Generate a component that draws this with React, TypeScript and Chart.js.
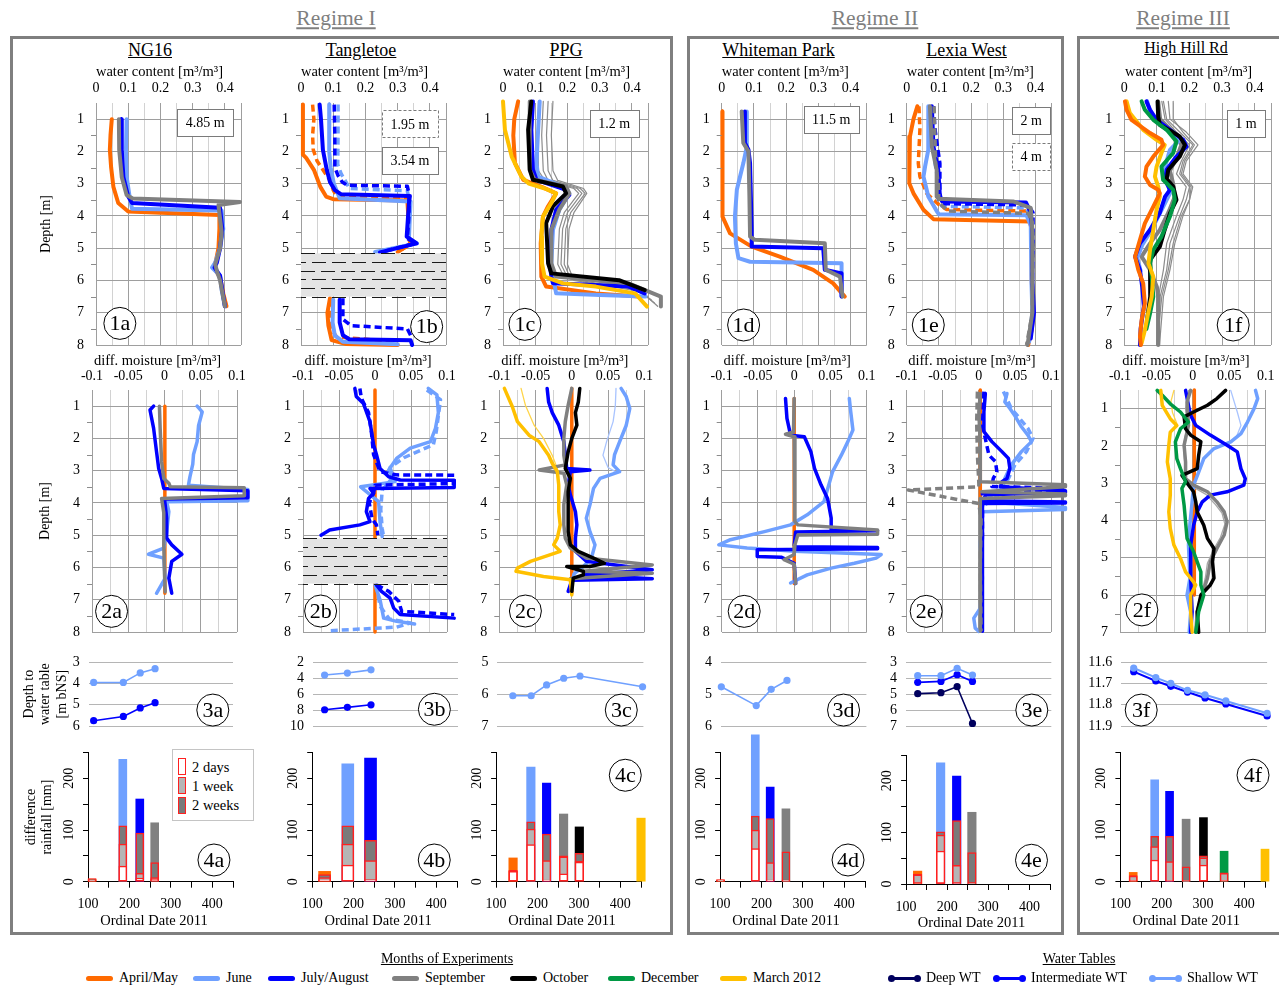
import React, { useEffect, useRef } from 'react';
import { Chart, registerables } from 'chart.js';

Chart.register(...registerables);

const SERIF = '"Liberation Serif", "Times New Roman", Times, serif';
Chart.defaults.font.family = SERIF;
Chart.defaults.font.size = 14;
Chart.defaults.color = '#000';

type P = number[][];

// ---------- colours ----------
const APR = '#ff6a00';
const JUN = '#6fa0ff';
const JUL = '#0000ff';
const SEP = '#808080';
const OCT = '#000000';
const DEC = '#009944';
const MAR = '#ffc000';
const DEEP = '#00005e';
const THIN = '#8c8c8c';
const JUN_THIN = '#a9c4ff';
const MAR_THIN = '#ffd54a';
const RED = '#ff2020';
const WK2 = '#7a7a7a';
const WK1 = '#b5b5b5';
const GRID_MAJ = '#9e9e9e';
const GRID_MIN = '#d2d2d2';

// ---------- ticks ----------
const WC_TICKS = [0, 0.05, 0.1, 0.15, 0.2, 0.25, 0.3, 0.35, 0.4, 0.45];
const WC_LABELS = ['0', '', '0.1', '', '0.2', '', '0.3', '', '0.4', ''];
const DM_TICKS = [-0.1, -0.075, -0.05, -0.025, 0, 0.025, 0.05, 0.075, 0.1];
const DM_LABELS = ['-0.1', '', '-0.05', '', '0', '', '0.05', '', '0.1'];
const DEPTH_TICKS = [1, 2, 3, 4, 5, 6, 7, 8];
const DEPTH_TICKS_7 = [1, 2, 3, 4, 5, 6, 7];
const HALF_DEPTH = [1.5, 2.5, 3.5, 4.5, 5.5, 6.5, 7.5];
const HALF_DEPTH_7 = [1.5, 2.5, 3.5, 4.5, 5.5, 6.5];
const DATE_TICKS = [100, 150, 200, 250, 300, 350, 400, 450];
const DATE_LABELS = ['100', '', '200', '', '300', '', '400', ''];
const RAIN_TICKS = [0, 50, 100, 150, 200, 250];
const RAIN_LABELS = [0, 100, 200];
const WT_TICKS_A = [3, 4, 5, 6];
const WT_TICKS_B = [2, 4, 6, 8, 10];
const WT_TICKS_C = [5, 6, 7];
const WT_TICKS_D = [4, 5, 6];
const WT_TICKS_E = [3, 4, 5, 6, 7];
const WT_TICKS_F = [11.6, 11.7, 11.8, 11.9];

// ---------- Row 1: water content profiles [value, depth] ----------
const NG16_APR: P = [[0.049,1],[0.045,1.5],[0.043,1.95],[0.047,2.5],[0.054,3.1],[0.069,3.6],[0.1,3.86],[0.383,3.97],[0.383,4.4],[0.38,5.0],[0.372,5.4],[0.365,5.6],[0.385,5.9],[0.395,6.4],[0.405,6.8]];
const NG16_JUN: P = [[0.095,1],[0.093,1.95],[0.095,2.78],[0.105,3.45],[0.112,3.78],[0.39,3.83],[0.395,4.4],[0.385,5.0],[0.37,5.45],[0.36,5.6],[0.385,5.85],[0.39,6.3],[0.4,6.8]];
const NG16_JUL: P = [[0.078,1],[0.08,1.95],[0.085,2.8],[0.1,3.4],[0.112,3.6],[0.385,3.75],[0.392,4.4],[0.385,5.0],[0.375,5.45],[0.368,5.6],[0.385,5.85],[0.392,6.3],[0.4,6.8]];
const NG16_SEP: P = [[0.071,1],[0.072,1.95],[0.08,2.8],[0.095,3.35],[0.114,3.46],[0.447,3.57],[0.38,3.66],[0.39,4.5],[0.385,5.0],[0.37,5.5],[0.375,5.7],[0.385,6.0],[0.4,6.8]];

const TANG_APR: P = [[0.006,0.55],[0.006,2.1],[0.016,2.2],[0.04,2.57],[0.06,3.1],[0.078,3.4],[0.1,3.48],[0.33,3.52],[0.333,4.0],[0.335,4.7],[0.34,4.85],[0.3,5.12]];
const TANG_APR_LOW: P = [[0.09,6.55],[0.082,7.0],[0.085,7.4],[0.095,7.85],[0.14,7.97],[0.3,8.0]];
const TANG_APR_D: P = [[0.036,0.55],[0.04,1.0],[0.036,1.5],[0.038,1.95],[0.05,2.3],[0.07,2.6],[0.09,2.9],[0.1,3.2],[0.11,3.38],[0.33,3.45],[0.335,4.0],[0.335,4.7],[0.345,4.85],[0.3,5.12]];
const TANG_APR_D_LOW: P = [[0.095,6.6],[0.09,7.1],[0.095,7.5],[0.11,7.75],[0.3,7.9]];
const TANG_JUN: P = [[0.088,0.55],[0.088,1],[0.087,2],[0.092,2.5],[0.102,3.0],[0.12,3.45],[0.34,3.55],[0.338,4.0],[0.335,4.7],[0.36,4.85],[0.23,5.12]];
const TANG_JUN_LOW: P = [[0.1,6.6],[0.098,7.3],[0.105,7.7],[0.13,7.9],[0.3,7.98]];
const TANG_JUN_D: P = [[0.115,0.55],[0.115,1.5],[0.114,2.4],[0.125,2.7],[0.14,2.95],[0.15,3.15],[0.33,3.22],[0.336,3.5]];
const TANG_JUL: P = [[0.058,0.55],[0.062,1],[0.068,1.95],[0.08,2.57],[0.09,2.95],[0.105,3.2],[0.125,3.33],[0.338,3.38],[0.335,3.6],[0.328,4.64],[0.359,4.85],[0.245,5.13]];
const TANG_JUL_LOW: P = [[0.12,6.6],[0.12,7.3],[0.13,7.7],[0.15,7.82],[0.34,7.85],[0.345,8.0]];
const TANG_JUL_D: P = [[0.103,0.55],[0.105,1.5],[0.105,2.5],[0.115,2.75],[0.128,2.95],[0.143,3.05],[0.33,3.08],[0.335,3.3],[0.335,4.0],[0.33,4.7],[0.355,4.85],[0.25,5.12]];
const TANG_JUL_D_LOW: P = [[0.13,6.55],[0.13,7.2],[0.155,7.4],[0.33,7.5],[0.34,7.7]];

const PPG_T1: P = [[0.125,0.45],[0.12,1.5],[0.125,2.6],[0.14,2.9],[0.23,3.15],[0.245,3.3],[0.2,3.9],[0.185,4.4],[0.18,5.5],[0.2,5.9],[0.4,6.2],[0.46,6.6]];
const PPG_T2: P = [[0.14,0.45],[0.135,1.5],[0.14,2.6],[0.155,2.9],[0.24,3.15],[0.255,3.3],[0.21,3.9],[0.195,4.4],[0.19,5.5],[0.21,5.95],[0.42,6.3],[0.47,6.7]];
const PPG_T3: P = [[0.155,0.45],[0.15,1.5],[0.155,2.6],[0.17,2.9],[0.25,3.15],[0.26,3.3],[0.22,3.9],[0.205,4.4],[0.2,5.5],[0.22,6.0],[0.43,6.35],[0.48,6.8]];
const PPG_T4: P = [[0.11,0.45],[0.108,1.5],[0.11,2.6],[0.13,2.9],[0.22,3.15],[0.235,3.3],[0.19,3.9],[0.175,4.4],[0.17,5.5],[0.19,5.9],[0.38,6.15],[0.45,6.5]];
const PPG_APR: P = [[0.047,0.45],[0.035,1.0],[0.032,1.5],[0.037,2.36],[0.063,2.88],[0.12,3.1],[0.165,3.3],[0.14,3.7],[0.124,4.02],[0.117,4.85],[0.119,5.88],[0.134,6.19],[0.288,6.4],[0.42,6.5]];
const PPG_JUN: P = [[0.114,0.45],[0.109,1.33],[0.104,2.36],[0.109,2.78],[0.186,3.09],[0.206,3.3],[0.175,3.8],[0.155,4.43],[0.15,5.47],[0.155,5.88],[0.165,6.4],[0.3,6.45],[0.442,6.5]];
const PPG_JUL: P = [[0.093,0.45],[0.088,1.33],[0.093,2.57],[0.104,2.88],[0.196,3.19],[0.206,3.35],[0.165,3.8],[0.15,4.43],[0.145,5.47],[0.15,5.88],[0.155,6.09],[0.39,6.19],[0.44,6.4]];
const PPG_SEP: P = [[0.083,0.45],[0.083,2.57],[0.098,2.88],[0.196,3.09],[0.206,3.3],[0.175,3.8],[0.15,4.43],[0.15,5.47],[0.165,5.88],[0.39,6.09],[0.49,6.5],[0.49,6.81]];
const PPG_OCT: P = [[0.088,0.45],[0.078,1.33],[0.083,2.57],[0.093,2.88],[0.186,3.09],[0.196,3.3],[0.155,3.7],[0.134,4.22],[0.14,5.47],[0.15,5.78],[0.36,5.99],[0.44,6.3]];
const PPG_MAR: P = [[0.0,0.45],[0.006,1.33],[0.027,2.16],[0.057,2.78],[0.08,3.0],[0.13,3.15],[0.165,3.3],[0.15,3.6],[0.124,4.02],[0.119,4.64],[0.121,5.47],[0.129,5.88],[0.186,6.09],[0.288,6.19],[0.41,6.4],[0.447,6.81]];

const WP_APR: P = [[0.002,0.76],[0.002,1.8],[0.004,1.9],[0.002,2.0],[0.002,4.02],[0.026,4.54],[0.093,4.95],[0.18,5.26],[0.284,5.67],[0.346,6.09],[0.382,6.5]];
const WP_JUN: P = [[0.078,0.76],[0.078,1.85],[0.067,2.37],[0.047,3.19],[0.041,4.02],[0.044,4.85],[0.052,5.31],[0.088,5.42],[0.372,5.47],[0.372,6.5]];
const WP_JUL: P = [[0.072,0.76],[0.072,1.74],[0.083,1.95],[0.088,2.37],[0.093,4.43],[0.093,4.95],[0.315,5.0],[0.32,5.67],[0.372,5.78],[0.372,6.5]];
const WP_SEP: P = [[0.062,0.76],[0.067,1.74],[0.083,2.0],[0.086,3.4],[0.088,4.64],[0.103,4.74],[0.32,4.85],[0.323,5.67],[0.367,5.88],[0.375,6.5]];

const LW_APR: P = [[0.033,0.6],[0.021,1.0],[0.01,1.54],[0.008,2.37],[0.008,2.99],[0.021,3.3],[0.052,3.81],[0.083,4.1],[0.382,4.17],[0.388,4.43],[0.388,5.98],[0.393,7.02],[0.388,7.54],[0.377,8.0]];
const LW_APR_D: P = [[0.038,0.6],[0.041,1.33],[0.036,2.37],[0.041,2.78],[0.062,3.3],[0.1,3.65],[0.124,3.8],[0.372,3.85],[0.385,4.1],[0.388,4.3]];
const LW_JUN: P = [[0.067,0.6],[0.067,1.95],[0.057,2.47],[0.052,2.78],[0.067,3.4],[0.093,3.85],[0.1,3.95],[0.372,3.98],[0.385,4.3],[0.387,6.0],[0.39,7.0],[0.38,7.9]];
const LW_JUN_D: P = [[0.083,0.6],[0.088,2.37],[0.098,2.99],[0.098,3.5],[0.11,3.7],[0.37,3.75],[0.385,4.0]];
const LW_JUL: P = [[0.078,0.6],[0.083,1.85],[0.098,2.57],[0.103,3.4],[0.11,3.55],[0.37,3.58],[0.385,3.9],[0.39,4.5],[0.39,6.0],[0.395,7.0],[0.385,7.8]];
const LW_JUL_D: P = [[0.083,0.6],[0.088,1.33],[0.103,2.37],[0.103,3.3],[0.11,3.62],[0.377,3.66],[0.392,3.9],[0.392,5.0],[0.39,6.0],[0.392,7.0]];
const LW_SEP: P = [[0.072,0.6],[0.078,1.85],[0.093,2.57],[0.093,3.4],[0.1,3.47],[0.33,3.55],[0.385,3.75],[0.39,4.5],[0.39,7.0],[0.375,8.0]];
const LW_SEP_D: P = [[0.085,0.6],[0.09,2.4],[0.098,3.0],[0.1,3.6],[0.13,3.85],[0.377,3.92],[0.39,4.2],[0.392,5.0],[0.39,6.0],[0.39,7.0],[0.372,8.0]];

const HH_T1: P = [[0.12,0.45],[0.13,1.0],[0.17,1.4],[0.21,1.8],[0.18,2.3],[0.17,2.7],[0.2,3.1],[0.19,3.5],[0.17,4.0],[0.14,4.85],[0.13,5.67],[0.11,6.5],[0.105,8.0]];
const HH_T2: P = [[0.135,0.45],[0.14,1.0],[0.19,1.4],[0.226,1.8],[0.19,2.3],[0.18,2.7],[0.21,3.1],[0.2,3.5],[0.18,4.0],[0.155,4.85],[0.14,5.67],[0.12,6.5],[0.108,8.0]];
const HH_T3: P = [[0.15,0.45],[0.15,1.0],[0.18,1.4],[0.215,1.8],[0.185,2.3],[0.175,2.7],[0.205,3.1],[0.2,3.5],[0.175,4.0],[0.15,4.85],[0.135,5.67],[0.115,6.5],[0.1,8.0]];
const HH_T4: P = [[0.115,0.45],[0.125,1.0],[0.16,1.4],[0.2,1.8],[0.175,2.3],[0.16,2.7],[0.19,3.1],[0.18,3.5],[0.16,4.0],[0.13,4.85],[0.12,5.67],[0.105,6.5],[0.1,8.0]];
const HH_APR: P = [[0.002,0.45],[0.007,0.71],[0.022,1.02],[0.079,1.43],[0.114,1.64],[0.119,1.8],[0.089,2.16],[0.068,2.47],[0.063,2.78],[0.079,3.04],[0.104,3.19],[0.109,3.3],[0.089,3.71],[0.063,4.23],[0.048,4.74],[0.033,5.26],[0.043,5.67],[0.058,6.09],[0.063,6.71],[0.053,7.23],[0.048,7.74],[0.051,8.0]];
const HH_JUN: P = [[0.07,0.45],[0.08,0.8],[0.1,1.1],[0.14,1.4],[0.17,1.64],[0.14,1.95],[0.13,2.3],[0.12,2.7],[0.135,3.0],[0.14,3.3],[0.115,3.8],[0.085,4.4],[0.055,4.9],[0.04,5.3],[0.05,5.7]];
const HH_JUL: P = [[0.068,0.45],[0.079,0.71],[0.099,1.02],[0.14,1.33],[0.181,1.64],[0.191,1.85],[0.16,2.16],[0.13,2.57],[0.125,2.88],[0.14,3.19],[0.125,3.4],[0.109,3.9],[0.079,4.43],[0.048,4.85],[0.033,5.26],[0.048,5.67],[0.055,6.2],[0.06,6.8],[0.05,7.5],[0.048,8.0]];
const HH_SEP: P = [[0.104,0.45],[0.11,1.0],[0.13,1.2],[0.16,1.5],[0.175,1.8],[0.16,2.2],[0.14,2.6],[0.15,3.0],[0.155,3.4],[0.135,3.9],[0.109,4.43],[0.079,4.85],[0.053,5.26],[0.079,5.67],[0.1,6.2],[0.104,6.5],[0.104,8.0]];
const HH_OCT: P = [[0.102,0.45],[0.104,0.92],[0.109,1.18],[0.14,1.35],[0.17,1.54],[0.186,1.8],[0.17,2.16],[0.135,2.57],[0.13,2.85],[0.15,3.09],[0.16,3.5],[0.14,3.92],[0.124,4.43],[0.109,4.95],[0.079,5.36],[0.079,5.88],[0.08,6.5],[0.07,7.2]];
const HH_DEC: P = [[0.053,0.45],[0.063,0.71],[0.089,1.02],[0.13,1.33],[0.16,1.69],[0.15,2.05],[0.114,2.47],[0.119,2.88],[0.15,3.19],[0.155,3.5],[0.14,4.02],[0.114,4.64],[0.089,5.05],[0.079,5.47],[0.084,5.88],[0.089,6.5],[0.079,7.02],[0.068,7.5]];
const HH_MAR: P = [[0.007,0.45],[0.017,0.81],[0.058,1.33],[0.099,1.64],[0.124,1.8],[0.114,2.05],[0.099,2.47],[0.094,2.78],[0.104,3.09],[0.109,3.4],[0.099,3.81],[0.089,4.43],[0.079,5.05],[0.074,5.47],[0.089,5.88],[0.084,6.5],[0.073,7.02],[0.063,7.54],[0.053,7.95]];

// ---------- Row 2: differential moisture profiles [value, depth] ----------
const D_NG16_APR: P = [[0.0005,1],[0.0005,6.8]];
const D_NG16_JUN: P = [[0.045,1],[0.052,1.18],[0.047,1.6],[0.045,2.1],[0.04,2.5],[0.039,2.8],[0.035,3.2],[0.033,3.45],[0.115,3.58],[0.115,3.93],[0.003,3.96],[0.006,4.27],[0.003,4.9],[-0.001,5.4],[-0.022,5.59],[-0.001,5.71],[0.001,6.33],[-0.011,6.8]];
const D_NG16_JUL: P = [[-0.015,1],[-0.02,1.12],[-0.015,1.69],[-0.011,2.41],[-0.008,2.93],[-0.004,3.24],[-0.001,3.55],[0.115,3.62],[0.115,3.84],[0.0,3.88],[0.003,4.47],[0.003,5.09],[0.01,5.3],[0.024,5.59],[0.01,5.81],[0.006,6.33],[0.01,6.8]];
const D_NG16_SEP: P = [[-0.007,1],[-0.006,1.69],[-0.004,2.72],[-0.001,3.24],[0.006,3.39],[0.008,3.5],[0.11,3.53],[0.11,3.78],[-0.004,3.86],[-0.001,4.3],[-0.001,5.3],[0,6.2],[0.001,6.75]];

const D_TANG_APR: P = [[0,0.5],[0,8]];
const D_TANG_JUN: P = [[0.074,0.45],[0.086,0.65],[0.088,1.2],[0.084,1.69],[0.077,2.1],[0.049,2.3],[0.03,2.62],[0.019,2.98],[0.028,3.34],[-0.02,3.5],[0.005,3.96],[0.007,4.58],[0.009,4.89],[0.01,5.05]];
const D_TANG_JUN_D: P = [[0.072,0.5],[0.091,0.8],[0.088,1.3],[0.085,1.8],[0.081,2.2],[0.06,2.4],[0.04,2.6],[0.021,2.9],[0.025,3.2],[0.01,3.6],[0.008,4.2],[0.01,4.8],[0.012,5.05]];
const D_TANG_JUL: P = [[-0.028,0.45],[-0.026,0.7],[-0.016,0.92],[-0.007,1.48],[-0.002,2.2],[0.002,2.5],[0.007,2.93],[0.019,3.19],[0.035,3.29],[0.11,3.3],[0.11,3.52],[-0.007,3.55],[-0.002,3.7],[-0.009,3.86],[-0.012,4.27],[-0.007,4.58],[-0.021,4.68],[-0.063,4.84],[-0.075,5.0]];
const D_TANG_JUL_D: P = [[-0.021,0.45],[-0.019,0.75],[-0.009,1.2],[-0.005,1.8],[-0.002,2.5],[0.007,3.03],[0.03,3.13],[0.11,3.14],[0.11,3.4],[0.0,3.45],[-0.002,3.7],[-0.008,4.0],[-0.004,4.5],[0.002,4.68],[0.004,5.0]];
const D_TANG_JUN_LOW: P = [[0,6.54],[0.007,7.0],[0.012,7.57],[0.03,7.67],[0.055,7.75]];
const D_TANG_JUN_D_LOW: P = [[0.002,6.54],[0.007,7.2],[0.02,7.6],[0.049,7.72],[0.03,7.85],[-0.063,7.96]];
const D_TANG_JUL_LOW: P = [[0.002,6.54],[0.009,6.74],[0.021,6.95],[0.026,7.26],[0.035,7.46],[0.11,7.57]];
const D_TANG_JUL_D_LOW: P = [[0.002,6.54],[0.019,6.74],[0.033,7.05],[0.037,7.36],[0.11,7.46]];

const D_PPG_APR: P = [[0,0.45],[0,6.8]];
const D_PPG_JUN_T: P = [[0.061,0.45],[0.06,1.0],[0.057,1.48],[0.048,2.1],[0.043,2.52],[0.05,2.9],[0.06,3.03]];
const D_PPG_MAR_T: P = [[-0.07,0.45],[-0.064,0.97],[-0.052,1.59],[-0.039,2.0],[-0.027,2.52],[-0.02,2.93],[-0.018,3.2]];
const D_PPG_JUN: P = [[0.068,0.45],[0.075,0.7],[0.08,1.07],[0.075,1.6],[0.066,2.1],[0.059,2.5],[0.057,2.82],[0.066,3.03],[0.039,3.24],[0.03,3.55],[0.025,4.06],[0.02,4.47],[0.025,4.89],[0.032,5.3],[0.027,5.71],[0.016,5.97],[0.003,6.2],[-0.002,6.74]];
const D_PPG_JUL: P = [[-0.034,0.45],[-0.032,0.87],[-0.027,1.2],[-0.018,1.59],[-0.011,2.1],[-0.009,2.5],[-0.007,2.93],[0.025,2.98],[-0.002,3.03],[-0.005,3.44],[-0.002,3.75],[0.005,4.27],[0.007,4.68],[0.005,5.09],[0.005,5.5],[0.02,5.81],[0.111,6.07],[0.016,6.23],[0.111,6.35],[0.0,6.4],[-0.005,6.74]];
const D_PPG_SEP: P = [[0,0.45],[-0.005,0.97],[-0.009,1.48],[-0.011,2.0],[-0.011,2.52],[-0.009,2.82],[-0.045,2.98],[-0.011,3.08],[-0.007,3.44],[-0.011,4.06],[-0.011,4.68],[-0.009,5.09],[-0.002,5.4],[0.02,5.71],[0.111,5.92],[0.016,6.12],[0.111,6.18],[-0.002,6.35],[0,6.74]];
const D_PPG_OCT: P = [[0.011,0.45],[0.009,0.87],[0.005,1.2],[0.007,1.59],[0.0,2.0],[-0.005,2.41],[-0.009,2.93],[-0.002,3.24],[-0.005,3.65],[-0.005,4.27],[-0.005,4.89],[-0.002,5.3],[0.009,5.5],[0.03,5.71],[0.045,5.87],[0.025,5.97],[-0.007,5.97],[0.016,6.12],[0.016,6.23],[0.002,6.33],[0,6.74]];
const D_PPG_MAR: P = [[-0.093,0.45],[-0.082,1.02],[-0.075,1.48],[-0.059,1.9],[-0.045,2.1],[-0.032,2.52],[-0.027,2.77],[-0.02,3.03],[-0.018,3.44],[-0.018,4.27],[-0.016,4.68],[-0.02,5.09],[-0.025,5.3],[-0.016,5.5],[-0.057,5.81],[-0.075,6.02],[-0.077,6.12],[-0.039,6.28],[-0.002,6.38],[0,6.85]];

const D_WP_APR: P = [[0,0.76],[0,6.5]];
const D_WP_JUN: P = [[0.076,0.76],[0.078,1.18],[0.081,1.74],[0.074,2.1],[0.065,2.52],[0.053,3.03],[0.041,3.96],[0.018,4.37],[-0.005,4.68],[-0.041,4.89],[-0.088,5.14],[-0.104,5.3],[-0.065,5.4],[-0.028,5.45],[0.0,5.5],[0.12,5.6],[0.113,5.71],[0.083,5.87],[0.051,6.02],[0.018,6.23],[-0.005,6.48]];
const D_WP_JUL: P = [[-0.012,0.76],[-0.01,1.38],[-0.005,1.9],[0.014,1.95],[0.023,2.41],[0.028,2.93],[0.037,3.44],[0.046,3.86],[0.051,4.47],[0.051,4.84],[0.115,4.86],[0.002,4.9],[0,5.3],[0.002,5.36],[0.115,5.38],[0.115,5.42],[-0.051,5.45],[-0.051,5.66],[-0.018,5.68],[0,5.87],[0.002,6.5]];
const D_WP_SEP: P = [[0,0.76],[-0.001,1.8],[-0.012,1.87],[0.0,1.95],[0.001,3.0],[0.001,4.58],[0.005,4.68],[0.115,4.84],[0.115,4.97],[0.005,4.99],[0.001,5.3],[0,5.6],[-0.014,5.76],[0,5.9],[0.002,6.5]];

const D_LW_APR: P = [[0.002,0.5],[0.002,4.2]];
const D_LW_JUN: P = [[0.039,0.61],[0.036,0.87],[0.043,1.07],[0.05,1.3],[0.059,1.64],[0.068,1.9],[0.073,2.1],[0.059,2.41],[0.045,2.82],[0.036,3.24],[0.032,3.55],[0.015,3.8],[0.007,3.96],[0.12,4.14],[0.12,4.2],[0.005,4.27],[0.002,5.3],[0.005,6.33],[0.002,7.26],[-0.007,7.57],[-0.005,7.88],[0,7.98]];
const D_LW_JUN_D: P = [[0.034,0.55],[0.045,1.07],[0.068,1.69],[0.075,2.0],[0.066,2.41],[0.05,2.82],[0.039,3.34],[0.032,3.65],[0.02,3.9],[0.005,4.1]];
const D_LW_JUL: P = [[0.009,0.61],[0.007,1.18],[0.007,1.79],[0.018,2.1],[0.032,2.41],[0.041,2.62],[0.043,2.93],[0.039,3.24],[0.032,3.34],[0.03,3.5],[0.12,3.62],[0.12,3.68],[0.01,3.75],[0.005,3.93],[0.12,3.97],[0.12,4.0],[0.005,4.02],[0.005,5.3],[0.005,7.98]];
const D_LW_JUL_D: P = [[0.007,0.55],[0.005,1.6],[0.014,2.52],[0.023,2.72],[0.025,3.03],[0.02,3.24],[0.018,3.49],[0.12,3.55],[0.12,3.6],[0.005,3.7],[0.005,5.0],[0.003,7.0]];
const D_LW_SEP: P = [[0.002,0.61],[0,1.18],[0.002,2.2],[0.002,3.34],[0.12,3.44],[0.12,3.5],[0.004,3.65],[0.12,3.72],[0.12,3.78],[0.002,3.86],[0.002,5.3],[0.002,7.98]];
const D_LW_SEP_D: P = [[-0.002,0.55],[-0.003,1.5],[-0.002,2.5],[0,3.4],[0,3.5],[-0.098,3.6],[0,4.02],[0.003,4.5],[0.002,6.0],[0.003,7.98]];

const D_HH_APR: P = [[0.002,0.5],[0.002,6.0]];
const D_HH_JUN_T: P = [[0.052,0.51],[0.061,1.09],[0.066,1.45],[0.06,1.75]];
const D_HH_MAR_T: P = [[-0.026,0.51],[-0.03,0.8],[-0.028,1.1],[-0.022,1.4]];
const D_HH_SEP_T: P = [[-0.006,0.51],[-0.01,1.0],[-0.008,1.5],[-0.013,2.0],[-0.011,2.5],[-0.01,2.9],[0.0,3.1],[0.018,3.3],[0.03,3.55],[0.04,3.8],[0.044,4.1],[0.038,4.45],[0.028,4.8],[0.02,5.15],[0.017,5.55],[0.01,6.1],[0.005,6.5]];
const D_HH_JUN: P = [[0.086,0.51],[0.089,0.73],[0.084,1.0],[0.075,1.36],[0.066,1.67],[0.052,1.89],[0.029,2.07],[0.015,2.34],[0.008,2.7],[0.001,3.05],[-0.001,3.5],[-0.004,4.1],[-0.006,4.66],[-0.004,5.55],[-0.008,6.0],[-0.003,6.45],[-0.005,7.0]];
const D_HH_JUL: P = [[-0.01,0.51],[-0.006,0.91],[-0.003,1.18],[0.004,1.45],[0.024,1.71],[0.047,1.98],[0.061,2.16],[0.066,2.61],[0.072,2.88],[0.07,3.05],[0.047,3.23],[0.024,3.32],[0.013,3.5],[0.006,3.77],[0.001,4.13],[-0.003,4.66],[-0.003,5.55],[-0.001,6.45],[-0.003,7.0]];
const D_HH_SEP: P = [[-0.003,0.51],[-0.008,0.82],[-0.006,1.45],[-0.012,1.98],[-0.01,2.43],[-0.01,2.88],[0.001,3.05],[0.02,3.23],[0.033,3.5],[0.043,3.77],[0.047,4.04],[0.043,4.39],[0.033,4.75],[0.024,5.11],[0.02,5.55],[0.011,6.09],[0.006,6.45],[0.004,7.0]];
const D_HH_OCT: P = [[0.045,0.51],[0.033,0.73],[0.02,0.91],[0.001,1.09],[-0.012,1.22],[-0.01,1.54],[-0.003,1.71],[0.011,1.89],[0.008,2.25],[0.006,2.61],[-0.015,2.79],[-0.006,3.05],[0.001,3.23],[0.004,3.5],[0.006,3.77],[0.015,4.13],[0.02,4.48],[0.029,4.75],[0.027,5.11],[0.029,5.55],[0.024,5.73],[0.011,6.0],[0.006,6.45],[0.008,7.0]];
const D_HH_DEC: P = [[-0.049,0.51],[-0.042,0.64],[-0.031,0.87],[-0.017,1.09],[-0.006,1.36],[-0.017,1.54],[-0.024,1.89],[-0.022,2.34],[-0.017,2.61],[-0.01,2.96],[-0.015,3.14],[-0.012,3.59],[-0.01,4.04],[-0.008,4.48],[0.001,4.84],[0.006,5.11],[0.011,5.38],[0.011,5.73],[0.015,6.0],[0.008,6.45],[0.004,7.0]];
const D_HH_MAR: P = [[-0.044,0.51],[-0.042,0.91],[-0.031,1.27],[-0.022,1.45],[-0.031,1.63],[-0.033,1.98],[-0.035,2.43],[-0.031,2.88],[-0.031,3.32],[-0.033,3.77],[-0.031,4.21],[-0.026,4.66],[-0.017,5.02],[-0.01,5.38],[-0.003,5.55],[0.004,5.73],[-0.003,6.0],[-0.003,6.45],[-0.001,7.0]];

// ---------- Row 3: depth to water table ----------
const WT_DATES_A = [112, 184, 225, 261];
const WT_A_SHALLOW = [3.95, 3.95, 3.5, 3.3];
const WT_A_INTER = [5.75, 5.55, 5.15, 4.9];
const WT_DATES_B = [128, 183, 240];
const WT_B_SHALLOW = [3.6, 3.35, 2.95];
const WT_B_INTER = [7.96, 7.66, 7.34];
const WT_DATES_C = [137, 181, 218, 259, 298, 448];
const WT_C_SHALLOW = [6.05, 6.05, 5.71, 5.5, 5.43, 5.77];
const WT_DATES_D = [101, 185, 221, 259];
const WT_D_SHALLOW = [4.77, 5.36, 4.85, 4.57];
const WT_DATES_E = [128, 184, 223, 260];
const WT_E_SHALLOW = [3.84, 3.84, 3.38, 3.8];
const WT_E_INTER = [4.26, 4.2, 3.78, 4.2];
const WT_E_DEEP = [4.97, 4.91, 4.53, 6.84];
const WT_DATES_F = [130, 183, 219, 259, 301, 351, 450];
const WT_F_SHALLOW = [11.627, 11.672, 11.699, 11.732, 11.753, 11.782, 11.84];
const WT_F_INTER = [11.644, 11.688, 11.713, 11.74, 11.768, 11.796, 11.853];

// ---------- Row 4: difference rainfall [mm] ----------
const R_A_DATES = [110, 184, 225, 261];
const R_A_COLORS = [APR, JUN, JUL, SEP];
const R_A_TOTAL = [5, 237, 160, 114];
const R_A_2WK = [6, 108, 94, 37];
const R_A_1WK = [3, 73, 16, 8];
const R_A_2D = [2, 30, 7, 5];

const R_B_DATES = [130, 186, 241];
const R_B_COLORS = [APR, JUN, JUL];
const R_B_TOTAL = [20, 228, 239];
const R_B_2WK = [14, 108, 80];
const R_B_1WK = [8, 73, 41];
const R_B_2D = [3, 32, 4];

const R_C_DATES = [141, 184, 222, 263, 301, 450];
const R_C_COLORS = [APR, JUN, JUL, SEP, OCT, MAR];
const R_C_TOTAL = [46, 222, 191, 131, 106, 123];
const R_C_2WK = [22, 116, 92, 50, 55, null];
const R_C_1WK = [21, 102, 41, 48, 40, null];
const R_C_2D = [20, 72, 3, 15, 38, null];

const R_D_DATES = [101, 185, 221, 259];
const R_D_COLORS = [APR, JUN, JUL, SEP];
const R_D_TOTAL = [3, 284, 183, 141];
const R_D_2WK = [4, 127, 122, 58];
const R_D_1WK = [3, 100, 37, 3];
const R_D_2D = [2, 64, 3, 2];

const R_E_DATES = [128, 184, 223, 260];
const R_E_COLORS = [APR, JUN, JUL, SEP];
const R_E_TOTAL = [25, 235, 209, 139];
const R_E_2WK = [19, 101, 123, 61];
const R_E_1WK = [18, 95, 36, 2];
const R_E_2D = [1, 64, 2, 1];

const R_F_DATES = [131, 183, 219, 259, 301, 351, 450];
const R_F_COLORS = [APR, JUN, JUL, SEP, OCT, DEC, MAR];
const R_F_TOTAL = [18, 197, 175, 121, 124, 59, 63];
const R_F_2WK = [12, 88, 88, 29, 50, 17, null];
const R_F_1WK = [11, 68, 39, 2, 46, 16, null];
const R_F_2D = [2, 42, 2, 1, 32, 2, null];

// ---------- legend ----------
const MONTHS = ['April/May', 'June', 'July/August', 'September', 'October', 'December', 'March 2012'];
const MONTH_COLORS = [APR, JUN, JUL, SEP, OCT, DEC, MAR];
const WT_NAMES = ['Deep WT', 'Intermediate WT', 'Shallow WT'];
const WT_COLORS = [DEEP, JUL, JUN];
const RAIN_NAMES = ['2 days', '1 week', '2 weeks'];
const RAIN_FILLS = ['#ffffff', WK1, WK2];

// layout positions (px) of legend entries
const MONTH_LEG_X = [86, 193, 268, 392, 510, 608, 720];
const WT_LEG_X = [891, 996, 1152];

// ---------- helpers ----------
type Geo = { left: number; top: number; width: number; height: number; padding: any };

function geo(l: number, t: number, r: number, b: number, leftW: number, topH: number, bottomH: number): Geo {
  const pl = 6, pt = 24, pr = 22, pb = 24;
  const left = Math.floor(l - leftW - pl);
  const top = Math.floor(t - topH - pt);
  const width = Math.ceil(r + pr - left);
  const height = Math.ceil(b + bottomH + pb - top);
  return {
    left, top, width, height,
    padding: { left: l - leftW - left, top: t - topH - top, right: left + width - r, bottom: top + height - b - bottomH },
  };
}

type Deco = {
  circle?: [string, number, number];
  boxes?: [string, number, number, boolean?][];
  clay?: [number, number];
  minorY?: number[];
  rotY?: number[];
  xTitle?: [string, number, number, boolean]; // text, dx from centre, dy from edge, fromBottom
};

function decoPlugin(d: Deco) {
  return {
    id: 'deco',
    afterDraw(chart: any) {
      const { ctx, chartArea: ca, scales } = chart;
      const xs = scales.x, ys = scales.y;
      ctx.save();
      if (d.clay) {
        const y0 = ys.getPixelForValue(d.clay[0]);
        const y1 = ys.getPixelForValue(d.clay[1]);
        ctx.fillStyle = '#e4e4e4';
        ctx.fillRect(ca.left, y0, ca.right - ca.left, y1 - y0);
        ctx.strokeStyle = '#1a1a1a';
        ctx.lineWidth = 1;
        for (let i = 0; i <= 5; i++) {
          const y = Math.round(y0 + ((y1 - y0) * i) / 5) + 0.5;
          ctx.setLineDash([14, 6]);
          ctx.lineDashOffset = (i % 2) * 9;
          ctx.beginPath();
          ctx.moveTo(ca.left, y);
          ctx.lineTo(ca.right, y);
          ctx.stroke();
        }
        ctx.setLineDash([]);
      }
      if (d.minorY) {
        ctx.strokeStyle = '#8c8c8c';
        ctx.lineWidth = 1;
        d.minorY.forEach((v) => {
          const y = Math.round(ys.getPixelForValue(v)) + 0.5;
          ctx.beginPath();
          ctx.moveTo(ca.left - 5, y);
          ctx.lineTo(ca.left, y);
          ctx.stroke();
        });
      }
      if (d.rotY) {
        ctx.fillStyle = '#000';
        ctx.font = `14px ${SERIF}`;
        ctx.textAlign = 'center';
        ctx.textBaseline = 'middle';
        d.rotY.forEach((v) => {
          const y = ys.getPixelForValue(v);
          ctx.save();
          ctx.translate(ca.left - 19, y);
          ctx.rotate(-Math.PI / 2);
          ctx.fillText(String(v), 0, 0);
          ctx.restore();
        });
      }
      if (d.xTitle) {
        const [t, dx, dy, fromBottom] = d.xTitle;
        ctx.fillStyle = '#000';
        ctx.font = `14.5px ${SERIF}`;
        ctx.textAlign = 'center';
        ctx.textBaseline = 'middle';
        const x = (ca.left + ca.right) / 2 + dx;
        const y = fromBottom ? ca.bottom + dy : ca.top - dy;
        ctx.fillText(t, x, y);
      }
      (d.boxes || []).forEach(([t, vx, vy, dashed]) => {
        ctx.font = `14px ${SERIF}`;
        const w = Math.round(ctx.measureText(t).width + 17);
        const h = 27;
        const cx = xs.getPixelForValue(vx);
        const cy = ys.getPixelForValue(vy);
        const x0 = Math.round(cx - w / 2) + 0.5;
        const y0 = Math.round(cy - h / 2) + 0.5;
        ctx.fillStyle = '#fff';
        ctx.fillRect(x0, y0, w, h);
        ctx.strokeStyle = '#7a7a7a';
        ctx.lineWidth = 1;
        ctx.setLineDash(dashed ? [3, 2] : []);
        ctx.strokeRect(x0, y0, w, h);
        ctx.setLineDash([]);
        ctx.fillStyle = '#000';
        ctx.textAlign = 'center';
        ctx.textBaseline = 'middle';
        ctx.fillText(t, cx, cy + 1);
      });
      if (d.circle) {
        const [t, vx, vy] = d.circle;
        const cx = xs.getPixelForValue(vx);
        const cy = ys.getPixelForValue(vy);
        ctx.beginPath();
        ctx.arc(cx, cy, 16, 0, Math.PI * 2);
        ctx.fillStyle = '#fff';
        ctx.fill();
        ctx.lineWidth = 1;
        ctx.strokeStyle = '#000';
        ctx.stroke();
        ctx.fillStyle = '#000';
        ctx.font = `22px ${SERIF}`;
        ctx.textAlign = 'center';
        ctx.textBaseline = 'middle';
        ctx.fillText(t, cx, cy + 1);
      }
      ctx.restore();
    },
  };
}

function L(pts: P, color: string, w = 4, dash?: number[]) {
  return {
    data: pts.map((p) => ({ x: p[0], y: p[1] })),
    borderColor: color,
    backgroundColor: color,
    borderWidth: w,
    borderDash: dash || [],
    borderCapStyle: dash ? 'butt' : 'round',
    borderJoinStyle: 'round',
    showLine: true,
    pointRadius: 0,
    pointHoverRadius: 0,
    pointHitRadius: 0,
    tension: 0,
    fill: false,
    clip: false,
  };
}

const DASH = [7, 4];
const WC_TITLE = 'water content [m³/m³]';
const DM_TITLE = 'diff. moisture [m³/m³]';

function profCfg(kind: string, g: Geo, sets: any[], o: { leftW: number; ymax?: number; yTitle?: string; yPad?: number; deco: Deco }) {
  const wc = kind === 'wc';
  const xt = wc ? WC_TICKS : DM_TICKS;
  const xl = wc ? WC_LABELS : DM_LABELS;
  const ymax = o.ymax || 8;
  const yt = ymax === 8 ? DEPTH_TICKS : DEPTH_TICKS_7;
  const xTitle: [string, number, number, boolean] = wc ? [WC_TITLE, -9, 31, false] : [DM_TITLE, -7, 29, false];
  return {
    type: 'scatter',
    data: { datasets: sets.map((s, i) => ({ ...s, order: 100 - i })) },
    options: {
      responsive: false,
      animation: false,
      events: [],
      layout: { padding: g.padding },
      plugins: { legend: { display: false }, tooltip: { enabled: false } },
      scales: {
        x: {
          type: 'linear', position: 'top', min: xt[0], max: xt[xt.length - 1],
          afterBuildTicks: (s: any) => { s.ticks = xt.map((value) => ({ value })); },
          afterFit: (s: any) => { s.height = 45; },
          ticks: { autoSkip: false, maxRotation: 0, minRotation: 0, padding: wc ? 6.6 : 5.6, font: { size: 14 }, callback: (_v: any, i: number) => xl[i] },
          grid: { drawTicks: false, lineWidth: 1, color: (c: any) => (c.index % 2 === 0 || c.index === xt.length - 1 ? GRID_MAJ : GRID_MIN) },
          border: { display: false },
          title: { display: false },
        },
        y: {
          type: 'linear', reverse: true, min: 0.5, max: ymax,
          afterBuildTicks: (s: any) => { s.ticks = yt.map((value) => ({ value })); },
          afterFit: (s: any) => { s.width = o.leftW; },
          ticks: { autoSkip: false, padding: 12, font: { size: 14 } },
          grid: { drawTicks: false, color: GRID_MAJ, lineWidth: 1 },
          border: { display: false },
          title: { display: !!o.yTitle, text: o.yTitle || '', font: { size: 14 }, padding: { top: o.yPad || 0, bottom: 0 } },
        },
      },
    },
    plugins: [decoPlugin({ ...o.deco, xTitle, minorY: ymax === 8 ? HALF_DEPTH : HALF_DEPTH_7 })],
  };
}

function W(dates: number[], vals: number[], color: string, w = 1.6) {
  return {
    data: dates.map((d, i) => ({ x: d, y: vals[i] })),
    borderColor: color,
    backgroundColor: color,
    pointBackgroundColor: color,
    borderWidth: w,
    showLine: true,
    pointRadius: 3.6,
    pointBorderWidth: 0,
    pointHoverRadius: 0,
    tension: 0,
    clip: false,
  };
}

function wtCfg(g: Geo, sets: any[], o: { leftW: number; ticks: number[]; fmt?: boolean; yTitle?: string[]; deco: Deco }) {
  return {
    type: 'scatter',
    data: { datasets: sets },
    options: {
      responsive: false,
      animation: false,
      events: [],
      layout: { padding: g.padding },
      plugins: { legend: { display: false }, tooltip: { enabled: false } },
      scales: {
        x: { type: 'linear', display: false, min: 100, max: 450 },
        y: {
          type: 'linear', reverse: true, min: o.ticks[0], max: o.ticks[o.ticks.length - 1],
          afterBuildTicks: (s: any) => { s.ticks = o.ticks.map((value) => ({ value })); },
          afterFit: (s: any) => { s.width = o.leftW; },
          ticks: { autoSkip: false, padding: 9, font: { size: 14 }, callback: (v: number) => (o.fmt ? v.toFixed(1) : String(v)) },
          grid: { drawTicks: false, color: '#b5b5b5', lineWidth: 1 },
          border: { display: false },
          title: { display: !!o.yTitle, text: o.yTitle || '', font: { size: 14 }, padding: { top: 1.9, bottom: 0 } },
        },
      },
    },
    plugins: [decoPlugin(o.deco)],
  };
}

function rainCfg(
  g: Geo,
  r: { dates: number[]; colors: string[]; total: number[]; wk2: (number | null)[]; wk1: (number | null)[]; d2: (number | null)[] },
  thick: number,
  o: { leftW: number; yTitle?: string[]; deco: Deco }
) {
  const pts = (vals: (number | null)[]) =>
    r.dates.map((x, i) => ({ x, y: vals[i] })).filter((p) => p.y !== null && p.y !== undefined);
  const base = { grouped: false, barThickness: thick, clip: false, borderSkipped: false };
  const sets = [
    { ...base, data: pts(r.total), backgroundColor: r.colors, borderWidth: 0, order: 4 },
    { ...base, data: pts(r.wk2), backgroundColor: WK2, borderColor: RED, borderWidth: 1.5, order: 3 },
    { ...base, data: pts(r.wk1), backgroundColor: WK1, borderColor: RED, borderWidth: 1.5, order: 2 },
    { ...base, data: pts(r.d2), backgroundColor: '#ffffff', borderColor: RED, borderWidth: 1.5, order: 1 },
  ];
  return {
    type: 'bar',
    data: { datasets: sets },
    options: {
      responsive: false,
      animation: false,
      events: [],
      layout: { padding: g.padding },
      plugins: { legend: { display: false }, tooltip: { enabled: false } },
      scales: {
        x: {
          type: 'linear', position: 'bottom', min: 100, max: 450, offset: false,
          afterBuildTicks: (s: any) => { s.ticks = DATE_TICKS.map((value) => ({ value })); },
          afterFit: (s: any) => { s.height = 50; },
          ticks: { autoSkip: false, maxRotation: 0, minRotation: 0, padding: 8.6, font: { size: 14 }, callback: (_v: any, i: number) => DATE_LABELS[i] },
          grid: { offset: false, drawOnChartArea: false, drawTicks: true, tickLength: 6, color: '#000' },
          border: { color: '#000', width: 1 },
          title: { display: false },
        },
        y: {
          type: 'linear', min: 0, max: 250,
          afterBuildTicks: (s: any) => { s.ticks = RAIN_TICKS.map((value) => ({ value })); },
          afterFit: (s: any) => { s.width = o.leftW; },
          ticks: { display: false },
          grid: { drawOnChartArea: false, drawTicks: true, tickLength: 5, color: '#000' },
          border: { color: '#000', width: 1 },
          title: { display: !!o.yTitle, text: o.yTitle || '', font: { size: 14 }, padding: { top: 4.6, bottom: 0 } },
        },
      },
    },
    plugins: [decoPlugin({ ...o.deco, rotY: RAIN_LABELS, xTitle: ['Ordinal Date 2011', -6.5, 39.3, true] })],
  };
}

function ChartBox({ g, cfg }: { g: Geo; cfg: () => any }) {
  const ref = useRef<HTMLCanvasElement | null>(null);
  useEffect(() => {
    const chart = new Chart(ref.current as HTMLCanvasElement, cfg());
    return () => chart.destroy();
  }, []);
  return (
    <canvas
      ref={ref}
      width={g.width}
      height={g.height}
      style={{ position: 'absolute', left: g.left, top: g.top, width: g.width, height: g.height }}
    />
  );
}

// ---------- panel definitions ----------
const R1T = 103, R1B = 345, R2T = 390, R2B = 632, R3T = 662.3, R3B = 726, R4T = 752.5, R4B = 881.7;

const PANELS: { key: string; g: Geo; cfg: (g: Geo) => any }[] = [];
function add(key: string, g: Geo, cfg: (g: Geo) => any) { PANELS.push({ key, g, cfg }); }

// Row 1
add('1a', geo(96, R1T, 241, R1B, 60, 45, 0), (g) => profCfg('wc', g,
  [L(NG16_APR, APR), L(NG16_JUN, JUN), L(NG16_JUL, JUL), L(NG16_SEP, SEP)],
  { leftW: 60, yTitle: 'Depth [m]', yPad: 2.3, deco: { circle: ['1a', 0.074, 7.33], boxes: [['4.85 m', 0.339, 1.09]] } }));
add('1b', geo(301, R1T, 446, R1B, 30, 45, 0), (g) => profCfg('wc', g,
  [L(TANG_APR, APR), L(TANG_APR_LOW, APR), L(TANG_APR_D, APR, 3.5, DASH), L(TANG_APR_D_LOW, APR, 3.5, DASH),
   L(TANG_JUN, JUN), L(TANG_JUN_LOW, JUN), L(TANG_JUN_D, JUN, 3.5, DASH),
   L(TANG_JUL, JUL), L(TANG_JUL_LOW, JUL), L(TANG_JUL_D, JUL, 3.5, DASH), L(TANG_JUL_D_LOW, JUL, 3.5, DASH)],
  { leftW: 30, deco: { circle: ['1b', 0.39, 7.43], boxes: [['1.95 m', 0.338, 1.15, true], ['3.54 m', 0.338, 2.27]], clay: [5.16, 6.5] } }));
add('1c', geo(503, R1T, 648, R1B, 30, 45, 0), (g) => profCfg('wc', g,
  [L(PPG_T1, THIN, 1.2), L(PPG_T2, THIN, 1.2), L(PPG_T3, THIN, 1.2), L(PPG_T4, THIN, 1.2),
   L(PPG_APR, APR), L(PPG_JUN, JUN), L(PPG_JUL, JUL), L(PPG_SEP, SEP), L(PPG_OCT, OCT), L(PPG_MAR, MAR)],
  { leftW: 30, deco: { circle: ['1c', 0.068, 7.36], boxes: [['1.2 m', 0.345, 1.14]] } }));
add('1d', geo(721.7, R1T, 866.7, R1B, 30, 45, 0), (g) => profCfg('wc', g,
  [L(WP_APR, APR), L(WP_JUN, JUN), L(WP_JUL, JUL), L(WP_SEP, SEP)],
  { leftW: 30, deco: { circle: ['1d', 0.068, 7.38], boxes: [['11.5 m', 0.34, 1.02]] } }));
add('1e', geo(906.7, R1T, 1051.7, R1B, 30, 45, 0), (g) => profCfg('wc', g,
  [L(LW_APR, APR), L(LW_APR_D, APR, 3.5, DASH), L(LW_JUN, JUN), L(LW_JUN_D, JUN, 3.5, DASH),
   L(LW_JUL, JUL), L(LW_JUL_D, JUL, 3.5, DASH), L(LW_SEP, SEP), L(LW_SEP_D, SEP, 3.5, DASH)],
  { leftW: 30, deco: { circle: ['1e', 0.067, 7.38], boxes: [['2 m', 0.386, 1.03], ['4 m', 0.386, 2.15, true]] } }));
add('1f', geo(1124.3, R1T, 1271, R1B, 30, 45, 0), (g) => profCfg('wc', g,
  [L(HH_T1, THIN, 1.2), L(HH_T2, THIN, 1.2), L(HH_T3, THIN, 1.2), L(HH_T4, THIN, 1.2),
   L(HH_SEP, SEP), L(HH_JUN, JUN), L(HH_JUL, JUL), L(HH_OCT, OCT), L(HH_DEC, DEC), L(HH_MAR, MAR), L(HH_APR, APR)],
  { leftW: 30, deco: { circle: ['1f', 0.334, 7.38], boxes: [['1 m', 0.373, 1.14]] } }));

// Row 2
add('2a', geo(92, R2T, 237, R2B, 60, 45, 0), (g) => profCfg('dm', g,
  [L(D_NG16_APR, APR, 3.5), L(D_NG16_JUN, JUN, 3.5), L(D_NG16_JUL, JUL, 3.5), L(D_NG16_SEP, SEP, 3.5)],
  { leftW: 60, yTitle: 'Depth [m]', yPad: 4.6, deco: { circle: ['2a', -0.073, 7.36] } }));
add('2b', geo(303, R2T, 447, R2B, 30, 45, 0), (g) => profCfg('dm', g,
  [L(D_TANG_APR, APR, 3.5), L(D_TANG_JUN, JUN, 3.5), L(D_TANG_JUN_D, JUN, 3.5, DASH), L(D_TANG_JUN_LOW, JUN, 3.5), L(D_TANG_JUN_D_LOW, JUN, 3.5, DASH),
   L(D_TANG_JUL, JUL, 3.5), L(D_TANG_JUL_D, JUL, 3.5, DASH), L(D_TANG_JUL_LOW, JUL, 3.5), L(D_TANG_JUL_D_LOW, JUL, 3.5, DASH)],
  { leftW: 30, deco: { circle: ['2b', -0.0755, 7.35], clay: [5.1, 6.5] } }));
add('2c', geo(499.3, R2T, 644.3, R2B, 30, 45, 0), (g) => profCfg('dm', g,
  [L(D_PPG_APR, APR, 3.5), L(D_PPG_JUN_T, JUN_THIN, 1.3), L(D_PPG_MAR_T, MAR_THIN, 1.3), L(D_PPG_JUN, JUN, 3.5),
   L(D_PPG_JUL, JUL, 3.5), L(D_PPG_SEP, SEP, 3.5), L(D_PPG_MAR, MAR, 3.5), L(D_PPG_OCT, OCT, 3.5)],
  { leftW: 30, deco: { circle: ['2c', -0.064, 7.35] } }));
add('2d', geo(721.7, R2T, 866.7, R2B, 30, 45, 0), (g) => profCfg('dm', g,
  [L(D_WP_APR, APR, 3.5), L(D_WP_JUN, JUN, 3.5), L(D_WP_JUL, JUL, 3.5), L(D_WP_SEP, SEP, 3.5)],
  { leftW: 30, deco: { circle: ['2d', -0.069, 7.36] } }));
add('2e', geo(906.7, R2T, 1051, R2B, 30, 45, 0), (g) => profCfg('dm', g,
  [L(D_LW_APR, APR, 3.5), L(D_LW_JUN, JUN, 3.5), L(D_LW_JUN_D, JUN, 3.5, DASH), L(D_LW_JUL, JUL, 3.5),
   L(D_LW_JUL_D, JUL, 3.5, DASH), L(D_LW_SEP, SEP, 3.5), L(D_LW_SEP_D, SEP, 3.5, DASH)],
  { leftW: 30, deco: { circle: ['2e', -0.073, 7.36] } }));
add('2f', geo(1120, R2T, 1265.7, 632.3, 30, 45, 0), (g) => profCfg('dm', g,
  [L(D_HH_APR, APR, 3.5), L(D_HH_JUN_T, JUN_THIN, 1.3), L(D_HH_MAR_T, MAR_THIN, 1.3), L(D_HH_SEP_T, '#a8a8a8', 1.3),
   L(D_HH_JUN, JUN, 3.5), L(D_HH_JUL, JUL, 3.5), L(D_HH_SEP, SEP, 3.5), L(D_HH_OCT, OCT, 3.5), L(D_HH_DEC, DEC, 3.5), L(D_HH_MAR, MAR, 3.5)],
  { leftW: 30, ymax: 7, deco: { circle: ['2f', -0.07, 6.4] } }));

// Row 3
add('3a', geo(88.7, R3T, 233, R3B, 70, 0, 0), (g) => wtCfg(g,
  [W(WT_DATES_A, WT_A_SHALLOW, JUN), W(WT_DATES_A, WT_A_INTER, JUL)],
  { leftW: 70, ticks: WT_TICKS_A, yTitle: ['Depth to', 'water table', '[m bNS]'], deco: { circle: ['3a', 401, 5.25] } }));
add('3b', geo(313, R3T, 458, R3B, 35, 0, 0), (g) => wtCfg(g,
  [W(WT_DATES_B, WT_B_SHALLOW, JUN), W(WT_DATES_B, WT_B_INTER, JUL)],
  { leftW: 35, ticks: WT_TICKS_B, deco: { circle: ['3b', 393, 7.9] } }));
add('3c', geo(497.4, R3T, 643.4, R3B, 35, 0, 0), (g) => wtCfg(g,
  [W(WT_DATES_C, WT_C_SHALLOW, JUN)],
  { leftW: 35, ticks: WT_TICKS_C, deco: { circle: ['3c', 397, 6.5] } }));
add('3d', geo(720.9, R3T, 866.4, R3B, 35, 0, 0), (g) => wtCfg(g,
  [W(WT_DATES_D, WT_D_SHALLOW, JUN)],
  { leftW: 35, ticks: WT_TICKS_D, deco: { circle: ['3d', 395, 5.5] } }));
add('3e', geo(906.1, R3T, 1051.3, R3B, 35, 0, 0), (g) => wtCfg(g,
  [W(WT_DATES_E, WT_E_SHALLOW, JUN), W(WT_DATES_E, WT_E_INTER, JUL), W(WT_DATES_E, WT_E_DEEP, DEEP)],
  { leftW: 35, ticks: WT_TICKS_E, deco: { circle: ['3e', 403, 6.0] } }));
add('3f', geo(1121.2, R3T, 1267.1, R3B, 45, 0, 0), (g) => wtCfg(g,
  [W(WT_DATES_F, WT_F_SHALLOW, JUN, 2), W(WT_DATES_F, WT_F_INTER, JUL, 2)],
  { leftW: 45, ticks: WT_TICKS_F, fmt: true, deco: { circle: ['3f', 148, 11.825] } }));

// Row 4
add('4a', geo(88, R4T, 233, R4B, 70, 0, 50), (g) => rainCfg(g,
  { dates: R_A_DATES, colors: R_A_COLORS, total: R_A_TOTAL, wk2: R_A_2WK, wk1: R_A_1WK, d2: R_A_2D }, 8,
  { leftW: 70, yTitle: ['difference', 'rainfall [mm]'], deco: { circle: ['4a', 404, 42] } }));
add('4b', geo(312.2, R4T, 457, R4B, 35, 0, 50), (g) => rainCfg(g,
  { dates: R_B_DATES, colors: R_B_COLORS, total: R_B_TOTAL, wk2: R_B_2WK, wk1: R_B_1WK, d2: R_B_2D }, 12,
  { leftW: 35, deco: { circle: ['4b', 395, 42] } }));
add('4c', geo(496.1, R4T, 641, R4B, 35, 0, 50), (g) => rainCfg(g,
  { dates: R_C_DATES, colors: R_C_COLORS, total: R_C_TOTAL, wk2: R_C_2WK, wk1: R_C_1WK, d2: R_C_2D }, 8.5,
  { leftW: 35, deco: { circle: ['4c', 412, 206] } }));
add('4d', geo(720.1, R4T, 865, R4B, 35, 0, 50), (g) => rainCfg(g,
  { dates: R_D_DATES, colors: R_D_COLORS, total: R_D_TOTAL, wk2: R_D_2WK, wk1: R_D_1WK, d2: R_D_2D }, 8,
  { leftW: 35, deco: { circle: ['4d', 409, 42] } }));
add('4e', geo(906.1, 755, 1050, 884, 35, 0, 50), (g) => rainCfg(g,
  { dates: R_E_DATES, colors: R_E_COLORS, total: R_E_TOTAL, wk2: R_E_2WK, wk1: R_E_1WK, d2: R_E_2D }, 8.5,
  { leftW: 35, deco: { circle: ['4e', 405, 46] } }));
add('4f', geo(1120.4, R4T, 1265, R4B, 35, 0, 50), (g) => rainCfg(g,
  { dates: R_F_DATES, colors: R_F_COLORS, total: R_F_TOTAL, wk2: R_F_2WK, wk1: R_F_1WK, d2: R_F_2D }, 8,
  { leftW: 35, deco: { circle: ['4f', 421, 206] } }));

// ---------- text helpers ----------
function T({ x, y, size = 14, color = '#000', u = false, children }: { x: number; y: number; size?: number; color?: string; u?: boolean; children: any }) {
  return (
    <div
      style={{
        position: 'absolute', left: x, top: y, transform: 'translate(-50%, -50%)', fontSize: size, color,
        lineHeight: 1, whiteSpace: 'nowrap', textDecoration: u ? 'underline' : 'none', fontFamily: SERIF,
      }}
    >
      {children}
    </div>
  );
}

const frame = (l: number, t: number, w: number, h: number) => (
  <div style={{ position: 'absolute', left: l, top: t, width: w, height: h, border: '3px solid #7f7f7f', boxSizing: 'border-box' }} />
);

export default function App() {
  return (
    <div style={{ position: 'absolute', left: 0, top: 0, width: 1279, height: 986, overflow: 'hidden', background: '#fff', fontFamily: SERIF }}>
      {frame(10, 36, 663, 899)}
      {frame(687, 36, 377, 899)}
      {frame(1077, 36, 220, 899)}

      <T x={336} y={19} size={21.5} color="#7f7f7f" u>Regime I</T>
      <T x={875} y={19} size={21.5} color="#7f7f7f" u>Regime II</T>
      <T x={1183} y={19} size={21.5} color="#7f7f7f" u>Regime III</T>

      <T x={150} y={50} size={18} u>NG16</T>
      <T x={361} y={50} size={18} u>Tangletoe</T>
      <T x={566} y={50} size={18} u>PPG</T>
      <T x={778.5} y={50} size={18} u>Whiteman Park</T>
      <T x={966.5} y={50} size={18} u>Lexia West</T>
      <T x={1186} y={48} size={16} u>High Hill Rd</T>

      {PANELS.map((p) => (
        <ChartBox key={p.key} g={p.g} cfg={() => p.cfg(p.g)} />
      ))}

      {/* rainfall legend (panel 4a) */}
      <div style={{ position: 'absolute', left: 172, top: 749, width: 82, height: 72, border: '1px solid #c4c4c4', boxSizing: 'border-box', background: '#fff' }} />
      {RAIN_NAMES.map((n, i) => (
        <React.Fragment key={n}>
          <div style={{ position: 'absolute', left: 178, top: 758 + i * 19.3, width: 8, height: 17, background: RAIN_FILLS[i], border: `1.5px solid ${RED}`, boxSizing: 'border-box' }} />
          <div style={{ position: 'absolute', left: 192, top: 766.5 + i * 19.3, transform: 'translateY(-50%)', fontSize: 14.5, lineHeight: 1, whiteSpace: 'nowrap' }}>{n}</div>
        </React.Fragment>
      ))}

      {/* bottom legend */}
      <T x={447} y={959} size={14} u>Months of Experiments</T>
      <T x={1079} y={959} size={14} u>Water Tables</T>
      {MONTHS.map((m, i) => (
        <React.Fragment key={m}>
          <div style={{ position: 'absolute', left: MONTH_LEG_X[i], top: 975.5, width: 27, height: 5, borderRadius: 3, background: MONTH_COLORS[i] }} />
          <div style={{ position: 'absolute', left: MONTH_LEG_X[i] + 33, top: 978, transform: 'translateY(-50%)', fontSize: 14, lineHeight: 1, whiteSpace: 'nowrap' }}>{m}</div>
        </React.Fragment>
      ))}
      {WT_NAMES.map((m, i) => (
        <React.Fragment key={m}>
          <div style={{ position: 'absolute', left: WT_LEG_X[i], top: 976.5, width: 27, height: 3, background: WT_COLORS[i] }} />
          <div style={{ position: 'absolute', left: WT_LEG_X[i] - 3, top: 974.5, width: 7, height: 7, borderRadius: 4, background: WT_COLORS[i] }} />
          <div style={{ position: 'absolute', left: WT_LEG_X[i] + 23, top: 974.5, width: 7, height: 7, borderRadius: 4, background: WT_COLORS[i] }} />
          <div style={{ position: 'absolute', left: WT_LEG_X[i] + 35, top: 978, transform: 'translateY(-50%)', fontSize: 14, lineHeight: 1, whiteSpace: 'nowrap' }}>{m}</div>
        </React.Fragment>
      ))}
    </div>
  );
}
